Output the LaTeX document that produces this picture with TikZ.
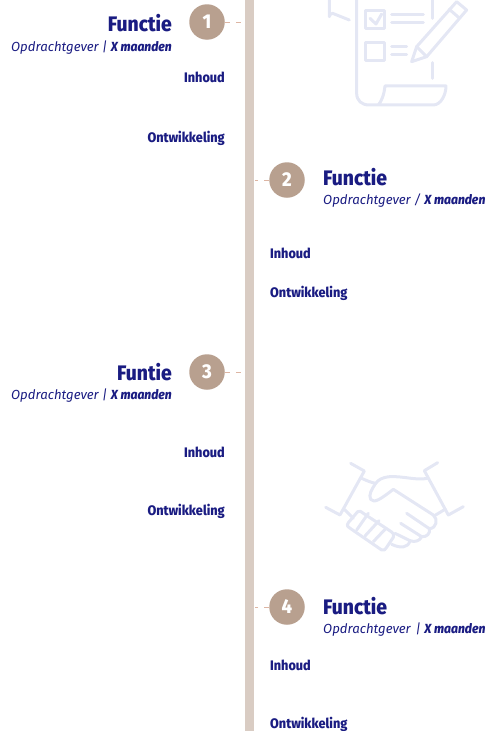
\documentclass[tikz,border=0pt]{standalone}
\usepackage{fontspec}
\setmainfont{Fira Sans}
\newfontfamily\heavy[FakeStretch=0.92]{Fira Sans ExtraBold}
\definecolor{navy}{HTML}{1A1C82}
\definecolor{barc}{HTML}{D9CCC3}
\definecolor{circ}{HTML}{B8A08F}
\definecolor{dashc}{HTML}{DDB5A3}
\definecolor{icon}{HTML}{E4E7F4}
\tikzset{
 numdot/.style={circle,fill=circ,draw=none,minimum size=35.5pt,inner sep=0pt,text=white,font=\heavy\fontsize{20}{20}\selectfont},
 func/.style={inner sep=0pt,text=navy,font=\heavy\fontsize{21}{21}\selectfont},
 sub/.style={inner sep=0pt,text=navy,font=\itshape\fontsize{13.2}{14}\selectfont},
 lbl/.style={inner sep=0pt,text=navy,font=\heavy\fontsize{13.8}{14}\selectfont},
 tick/.style={draw=dashc,line width=1pt,dash pattern=on 5pt off 6pt},
 ic/.style={draw=icon,line width=3pt,line cap=round,line join=round,fill=none},
}
\begin{document}
\begin{tikzpicture}[x=1pt,y=-1pt]
\useasboundingbox (0,0) rectangle (488,731);
\fill[barc] (245,0) rectangle (254,731);
% checklist icon
\begin{scope}[shift={(310,0)},x=0.3333pt,y=-0.3333pt]
\draw[ic] (58,-10) -- (58,50) arc[start angle=180,end angle=90,x radius=10,y radius=-10] -- (118,60);
\draw[ic] (140,-10) -- (140,280) .. controls (140,302) and (155,315) .. (178,315) -- (370,315) .. controls (392,315) and (408,285) .. (408,258) -- (225,258) .. controls (222,285) and (215,303) .. (205,315);
\draw[ic] (367,-10) -- (367,55);
\draw[ic] (367,188) -- (367,235);
\draw[ic] (168,30) rectangle (225,85);
\draw[ic] (180,55) -- (198,72) -- (215,42);
\draw[ic] (245,45) -- (340,45);
\draw[ic] (245,68) -- (340,68);
\draw[ic] (168,128) rectangle (225,183);
\draw[ic] (245,140) -- (290,140);
\draw[ic] (245,163) -- (290,163);
\draw[ic] (305,185) -- (320,140) -- (440,5) -- (470,30) -- (350,170) -- cycle;
\draw[ic] (320,140) -- (350,170);
\draw[ic] (418,28) -- (448,54);
\end{scope}
% handshake icon
\begin{scope}[shift={(310,450)},x=0.3333pt,y=-0.3333pt]
\draw[ic] (122,40) -- (163,63) -- (90,195) -- (47,172);
\draw[ic] (383,38) -- (343,62) -- (415,195) -- (460,170);
\draw[ic] (155,85) .. controls (170,92) and (185,98) .. (197,100) .. controls (205,90) and (215,82) .. (240,80) .. controls (280,78) and (320,92) .. (352,85);
\draw[ic] (197,100) .. controls (185,118) and (175,135) .. (182,148) .. controls (192,162) and (215,145) .. (250,118) -- (370,195) .. controls (385,208) and (380,235) .. (358,236) -- (290,190);
\draw[ic] (405,178) -- (372,198);
\draw[ic] (358,236) .. controls (362,250) and (350,262) .. (335,260) -- (272,220);
\draw[ic] (335,260) .. controls (330,272) and (315,278) .. (300,272) -- (255,250);
\draw[ic] (300,272) .. controls (295,295) and (270,295) .. (245,283);
\draw[ic] (103,178) -- (130,205);
\draw[ic] (143,185) -- (115,218) .. controls (108,228) and (115,232) .. (122,236) -- (215,300) .. controls (222,304) and (226,298) .. (230,292) -- (250,262) .. controls (254,254) and (250,250) .. (245,246) -- (160,190) .. controls (152,184) and (148,181) .. (143,185) -- cycle;
\draw[ic] (175,190) -- (140,240);
\draw[ic] (207,212) -- (165,258);
\draw[ic] (228,235) -- (190,275);
\end{scope}
% step 1
\coordinate (b1) at (243,22);
\node[numdot] (c1) at (207,22) {1};
\draw[tick] (c1) -- (b1);
\node[func,anchor=base east] (f1) at (172,31) {Functie};
\node[sub,anchor=base east] (s1) at (172,51) {Opdrachtgever | {\heavy X maanden}};
\node[lbl,anchor=base east] (i1) at (225,82) {Inhoud};
\node[lbl,anchor=base east] (o1) at (225,142) {Ontwikkeling};
% step 2
\coordinate (b2) at (255,180);
\node[numdot] (c2) at (287,180) {2};
\draw[tick] (c2) -- (b2);
\node[func,anchor=base west] (f2) at (323,185) {Functie};
\node[sub,anchor=base west] (s2) at (323,204) {Opdrachtgever / {\heavy X maanden}};
\node[lbl,anchor=base west] (i2) at (270,258) {Inhoud};
\node[lbl,anchor=base west] (o2) at (270,297) {Ontwikkeling};
% step 3
\coordinate (b3) at (243,372);
\node[numdot] (c3) at (207,372) {3};
\draw[tick] (c3) -- (b3);
\node[func,anchor=base east] (f3) at (172,380) {Funtie};
\node[sub,anchor=base east] (s3) at (172,399) {Opdrachtgever | {\heavy X maanden}};
\node[lbl,anchor=base east] (i3) at (225,457) {Inhoud};
\node[lbl,anchor=base east] (o3) at (225,515) {Ontwikkeling};
% step 4
\coordinate (b4) at (255,607);
\node[numdot] (c4) at (287,607) {4};
\draw[tick] (c4) -- (b4);
\node[func,anchor=base west] (f4) at (323,614) {Functie};
\node[sub,anchor=base west] (s4) at (323,633) {Opdrachtgever\kern 5pt| {\heavy X maanden}};
\node[lbl,anchor=base west] (i4) at (270,670) {Inhoud};
\node[lbl,anchor=base west] (o4) at (270,728) {Ontwikkeling};
\end{tikzpicture}
\end{document}
